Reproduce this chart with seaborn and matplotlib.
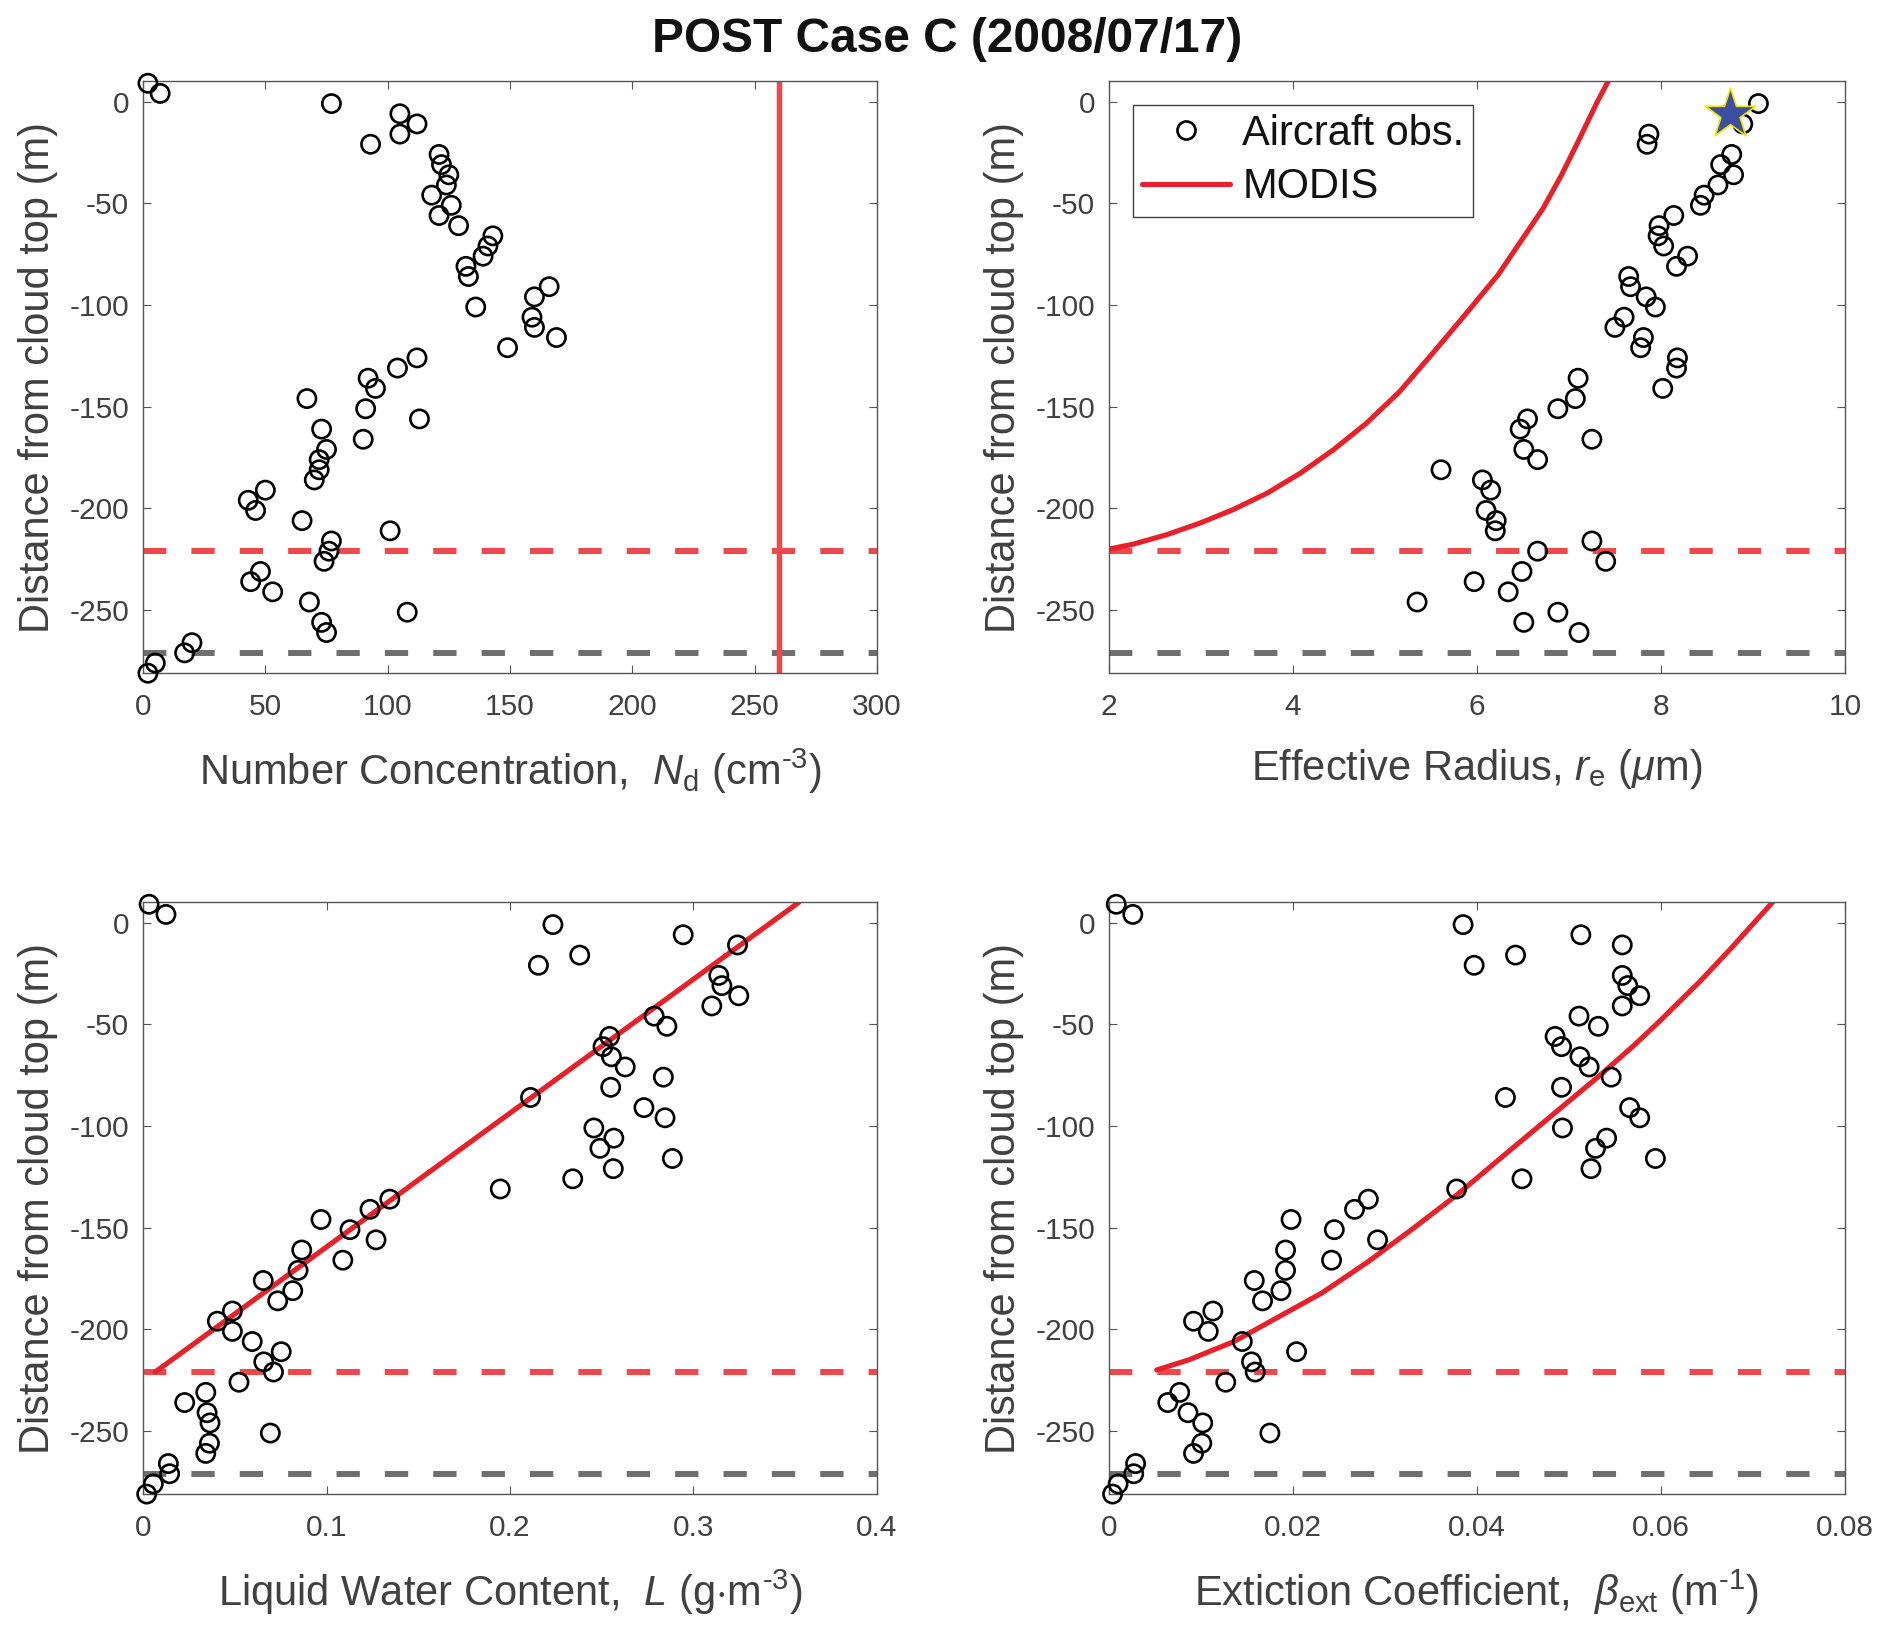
import numpy as np
import pandas as pd
import matplotlib
matplotlib.use('Agg')
import matplotlib.pyplot as plt
from matplotlib.lines import Line2D
import seaborn as sns

# heights of the aircraft samples (m from cloud top)
depth = [9, 4, -1, -6, -11, -16, -21, -26, -31, -36, -41, -46, -51, -56, -61,
         -66, -71, -76, -81, -86, -91, -96, -101, -106, -111, -116, -121, -126,
         -131, -136, -141, -146, -151, -156, -161, -166, -171, -176, -181, -186,
         -191, -196, -201, -206, -211, -216, -221, -226, -231, -236, -241, -246,
         -251, -256, -261, -266, -271, -276, -281]

# number concentration (cm-3)
nd = [2, 7, 77, 105, 112, 105, 93, 121, 122, 125, 124, 118, 126, 121, 129,
      143, 141, 139, 132, 133, 166, 160, 136, 159, 160, 169, 149, 112,
      104, 92, 95, 67, 91, 113, 73, 90, 75, 72, 72, 70,
      50, 43, 46, 65, 101, 77, 76, 74, 48, 44, 53, 68,
      108, 73, 75, 20, 17, 5, 2]

# effective radius (um), nan = no sample
re = [np.nan, np.nan, 9.06, 8.75, 8.89, 7.87, 7.85, 8.77, 8.65, 8.79, 8.62, 8.47, 8.43, 8.14, 7.98,
      7.97, 8.03, 8.29, 8.17, 7.65, 7.67, 7.84, 7.94, 7.60, 7.50, 7.81, 7.78, 8.18,
      8.17, 7.10, 8.02, 7.07, 6.88, 6.55, 6.47, 7.25, 6.51, 6.66, 5.61, 6.06,
      6.15, np.nan, 6.10, 6.21, 6.20, 7.25, 6.66, 7.40, 6.49, 5.97, 6.34, 5.35,
      6.88, 6.51, 7.11, np.nan, np.nan, np.nan, np.nan]

# liquid water content (g m-3)
lwc = [0.0033, 0.0125, 0.2234, 0.2944, 0.324, 0.238, 0.2155, 0.3138, 0.3155, 0.3247, 0.310, 0.2786, 0.2855, 0.2543, 0.2507,
       0.2553, 0.2628, 0.2836, 0.2549, 0.2112, 0.273, 0.2845, 0.2457, 0.2566, 0.249, 0.2885, 0.2563, 0.2342,
       0.1947, 0.1345, 0.1237, 0.097, 0.1128, 0.127, 0.0865, 0.1089, 0.0845, 0.0655, 0.0816, 0.0734,
       0.0487, 0.0405, 0.0487, 0.0595, 0.0753, 0.0658, 0.0711, 0.0523, 0.0342, 0.0227, 0.0349, 0.0365,
       0.0694, 0.0362, 0.0342, 0.0138, 0.0145, 0.0056, 0.002]

# extinction coefficient (m-1)
ext = [0.0008, 0.0026, 0.0385, 0.0513, 0.0558, 0.0442, 0.0397, 0.0558, 0.0564, 0.0577, 0.0558, 0.0511, 0.0532, 0.0485, 0.0492,
       0.0512, 0.0522, 0.0546, 0.0492, 0.0431, 0.0566, 0.0577, 0.0493, 0.0541, 0.0529, 0.0594, 0.0524, 0.0449,
       0.0378, 0.0282, 0.0267, 0.0198, 0.0245, 0.0292, 0.0192, 0.0242, 0.0192, 0.0158, 0.0187, 0.0167,
       0.0113, 0.0092, 0.0108, 0.0145, 0.0204, 0.0155, 0.0159, 0.0127, 0.0077, 0.0064, 0.0086, 0.0102,
       0.0175, 0.0101, 0.0092, 0.0029, 0.0027, 0.001, 0.0004]

# MODIS derived profiles
modis_nd = 260
modis_re_x = [2.00, 2.27, 2.63, 2.99, 3.35, 3.72, 4.08, 4.44, 4.80, 5.16, 5.52, 5.85,
              6.23, 6.72, 6.92, 7.10, 7.31, 7.43]
modis_re_y = [-220.0, -217.5, -212.9, -207.2, -200.6, -192.5, -182.7, -171.2, -158.1, -142.6, -123.7, -106.0,
              -85.2, -52.5, -36.1, -19.7, 0.0, 10.2]
modis_star = (8.75, -6)
modis_lwc_x = [0.0066, 0.3575]
modis_lwc_y = [-221, 10]
modis_ext_x = [0.0052, 0.0087, 0.0136, 0.0184, 0.0232, 0.0281, 0.0329, 0.0378, 0.0428, 0.0481,
               0.0533, 0.0570, 0.0597, 0.0643, 0.0677, 0.0722]
modis_ext_y = [-220, -215, -206, -194, -182, -167, -151, -134, -115, -95,
               -75.4, -60.7, -49.2, -28.7, -12.3, 10.3]

cloud_base = -221
below_base = -271

xlims = [(0, 300), (2, 10), (0, 0.4), (0, 0.08)]
xticks = [[0, 50, 100, 150, 200, 250, 300], [2, 4, 6, 8, 10],
          [0, 0.1, 0.2, 0.3, 0.4], [0, 0.02, 0.04, 0.06, 0.08]]
xticklabels = [['0', '50', '100', '150', '200', '250', '300'], ['2', '4', '6', '8', '10'],
               ['0', '0.1', '0.2', '0.3', '0.4'], ['0', '0.02', '0.04', '0.06', '0.08']]
yticks = [0, -50, -100, -150, -200, -250]
xlabels = ['Number Concentration,  $N_{\\rm d}$ (cm$^{\\rm \u20103}$)',
           'Effective Radius, $r_{\\rm e}$ ($\\mu$m)',
           'Liquid Water Content,  $L$ (g$\\cdot$m$^{\\rm \u20103}$)',
           'Extiction Coefficient,  $\\beta_{\\rm ext}$ (m$^{\\rm \u20101}$)']

sns.set_theme(style='ticks')
plt.rcParams['font.family'] = ['Liberation Sans', 'DejaVu Sans']
plt.rcParams['mathtext.fontset'] = 'custom'
plt.rcParams['mathtext.rm'] = 'Liberation Sans'
plt.rcParams['mathtext.it'] = 'Liberation Sans:italic'
plt.rcParams['mathtext.bf'] = 'Liberation Sans:bold'

TXT = '#404040'
RED_D = '#ef474b'
GRAY_D = '#6e6e6e'
RED_C = '#e8202a'

fig = plt.figure(figsize=(18.92, 16.44), dpi=100)
rects = [[0.0756, 0.5905, 0.3879, 0.3601], [0.5861, 0.5905, 0.389, 0.3601],
         [0.0756, 0.0912, 0.3879, 0.3600], [0.5861, 0.0912, 0.389, 0.3600]]
axes = [fig.add_axes(r) for r in rects]
obs = [nd, re, lwc, ext]

for i, ax in enumerate(axes):
    ax.axhline(cloud_base, color=RED_D, lw=4.3, ls=(0, (3.9, 4.2)), zorder=1)
    ax.axhline(below_base, color=GRAY_D, lw=4.3, ls=(0, (3.9, 4.2)), zorder=1)
    sns.scatterplot(x=obs[i], y=depth, ax=ax, marker='o', s=172,
                    facecolors='none', edgecolor='black', linewidth=1.9,
                    clip_on=False, zorder=3)
    ax.set_xlim(*xlims[i])
    ax.set_ylim(-281, 10)
    ax.set_xticks(xticks[i])
    ax.set_xticklabels(xticklabels[i])
    ax.set_yticks(yticks)
    ax.set_yticklabels([str(t) for t in yticks])
    ax.tick_params(direction='in', top=True, right=True, length=6, width=0.8,
                   color='#555555', labelcolor=TXT, labelsize=21.5)
    ax.tick_params(axis='x', pad=14)
    ax.tick_params(axis='y', pad=10)
    for sp in ax.spines.values():
        sp.set_color('#555555')
        sp.set_linewidth(1.0)
    ax.set_xlabel(xlabels[i], fontsize=30, color=TXT, labelpad=19)
    ax.set_ylabel('Distance from cloud top (m)', fontsize=30, color=TXT, labelpad=8)

# MODIS profiles
axes[0].axvline(modis_nd, color=RED_D, lw=3.9, zorder=2)
sns.lineplot(x=modis_re_x, y=modis_re_y, ax=axes[1], sort=False, color=RED_C, lw=3.7, zorder=2)
axes[1].scatter([modis_star[0]], [modis_star[1]], marker='*', s=1450, color='#3b4ea0',
                edgecolor='#f2e400', linewidth=1.2, zorder=5)
sns.lineplot(x=modis_lwc_x, y=modis_lwc_y, ax=axes[2], sort=False, color=RED_C, lw=3.7, zorder=2)
sns.lineplot(x=modis_ext_x, y=modis_ext_y, ax=axes[3], sort=False, color=RED_C, lw=3.7, zorder=2)

handles = [Line2D([], [], ls='none', marker='o', ms=13, mfc='none', mec='black', mew=1.9),
           Line2D([], [], color=RED_C, lw=3.7)]
leg = axes[1].legend(handles, ['Aircraft obs.', 'MODIS'], loc='upper left',
                     bbox_to_anchor=(0.0327, 0.96), fontsize=30, frameon=True,
                     fancybox=False, framealpha=1, edgecolor='#404040',
                     handlelength=2.1, handletextpad=0.3, borderpad=0.22,
                     labelspacing=0.32, borderaxespad=0)
leg.get_frame().set_linewidth(1.0)
for t in leg.get_texts():
    t.set_color('#111111')

fig.text(0.5005, 0.976, 'POST Case C (2008/07/17)', ha='center', va='center',
         fontsize=34.5, fontweight='bold', color='#111111')

fig.savefig('out.png', dpi=100)
